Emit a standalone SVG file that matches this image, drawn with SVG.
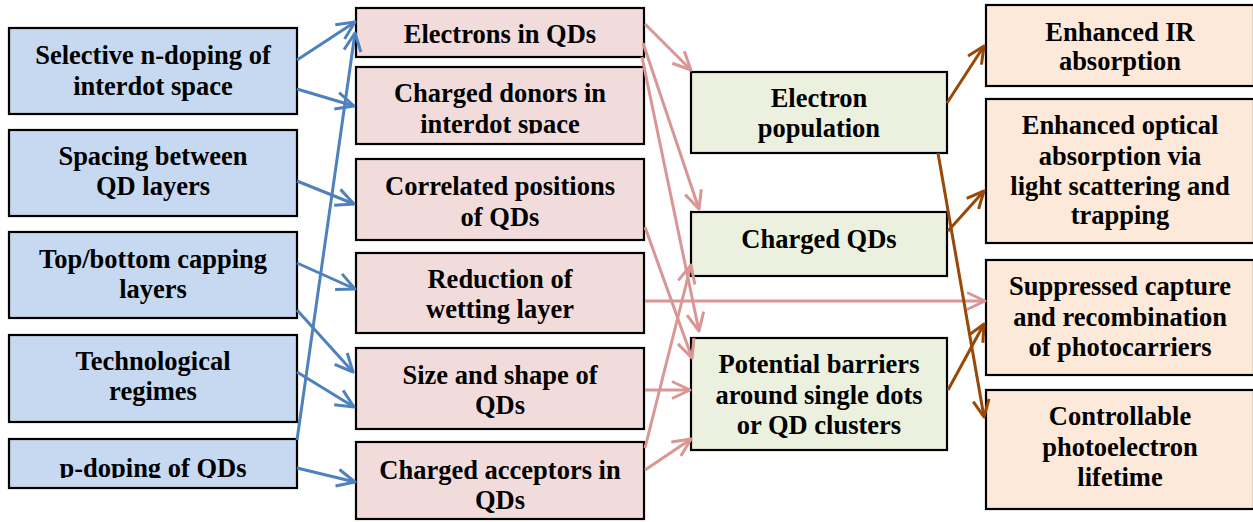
<svg xmlns="http://www.w3.org/2000/svg" width="1253" height="522" viewBox="0 0 1253 522">
<style>
  .box { stroke: #000; stroke-width: 2.2; }
  .blue { fill: #c6d9f0; }
  .pink { fill: #f2dcdb; }
  .green { fill: #ebf1de; }
  .peach { fill: #fde9d9; }
  text { font-family: "Liberation Serif", "Times New Roman", serif; font-weight: bold; font-size: 26.5px; fill: #000; text-anchor: middle; }
  .cb { stroke: #4f81bd; stroke-width: 3; fill: none; marker-end: url(#ab); }
  .cp { stroke: #d99694; stroke-width: 3; fill: none; marker-end: url(#ap); }
  .cr { stroke: #984807; stroke-width: 3; fill: none; marker-end: url(#ar); }
</style>
<defs>
  <marker id="ab" markerUnits="userSpaceOnUse" markerWidth="24" markerHeight="24" viewBox="-20 -12 24 24" refX="0" refY="0" orient="auto" overflow="visible">
    <path d="M-18,-8.5 L0,0 L-18,8.5" fill="none" stroke="#4f81bd" stroke-width="3" stroke-linejoin="round"/>
  </marker>
  <marker id="ap" markerUnits="userSpaceOnUse" markerWidth="24" markerHeight="24" viewBox="-20 -12 24 24" refX="0" refY="0" orient="auto" overflow="visible">
    <path d="M-18,-8.5 L0,0 L-18,8.5" fill="none" stroke="#d99694" stroke-width="3" stroke-linejoin="round"/>
  </marker>
  <marker id="ar" markerUnits="userSpaceOnUse" markerWidth="24" markerHeight="24" viewBox="-20 -12 24 24" refX="0" refY="0" orient="auto" overflow="visible">
    <path d="M-17,-8 L0,0 L-17,8" fill="none" stroke="#984807" stroke-width="3" stroke-linejoin="round"/>
  </marker>
  <clipPath id="clipM2"><rect x="356" y="60" width="288" height="73.5"/></clipPath>
  <clipPath id="clipL5"><rect x="9" y="430" width="288" height="48"/></clipPath>
</defs>
<rect width="1253" height="522" fill="#fff"/>

<!-- Left column -->
<g id="n-doping"><rect class="box blue" x="9" y="28" width="288" height="86"/>
  <text x="153" y="64">Selective n-doping of</text><text x="153" y="95">interdot space</text></g>
<g id="spacing"><rect class="box blue" x="9" y="130" width="288" height="86"/>
  <text x="153" y="165">Spacing between</text><text x="153" y="195">QD layers</text></g>
<g id="capping"><rect class="box blue" x="9" y="232" width="288" height="86"/>
  <text x="153" y="268">Top/bottom capping</text><text x="153" y="298">layers</text></g>
<g id="regimes"><rect class="box blue" x="9" y="335" width="288" height="87"/>
  <text x="153" y="370">Technological</text><text x="153" y="400">regimes</text></g>
<g id="p-doping"><rect class="box blue" x="9" y="439" width="288" height="49"/>
  <text x="153" y="476.5" clip-path="url(#clipL5)">p-doping of QDs</text></g>

<!-- Middle column -->
<g id="electrons-qds"><rect class="box pink" x="356" y="8" width="288" height="49"/>
  <text x="500" y="43">Electrons in QDs</text></g>
<g id="charged-donors"><rect class="box pink" x="356" y="67" width="288" height="77"/>
  <g clip-path="url(#clipM2)"><text x="500" y="101.5">Charged donors in</text><text x="500" y="132.5">interdot space</text></g></g>
<g id="correlated"><rect class="box pink" x="356" y="159" width="288" height="81"/>
  <text x="500" y="195">Correlated positions</text><text x="500" y="225.5">of QDs</text></g>
<g id="wetting"><rect class="box pink" x="356" y="253" width="288" height="80"/>
  <text x="500" y="287.5">Reduction of</text><text x="500" y="318">wetting layer</text></g>
<g id="size-shape"><rect class="box pink" x="356" y="348" width="288" height="81"/>
  <text x="500" y="383.5">Size and shape of</text><text x="500" y="414">QDs</text></g>
<g id="acceptors"><rect class="box pink" x="356" y="442" width="288" height="77"/>
  <text x="500" y="478.5">Charged acceptors in</text><text x="500" y="509">QDs</text></g>

<!-- Green column -->
<g id="electron-population"><rect class="box green" x="691" y="72" width="256" height="81"/>
  <text x="819" y="106.5">Electron</text><text x="819" y="136.5">population</text></g>
<g id="charged-qds"><rect class="box green" x="691" y="212" width="256" height="64"/>
  <text x="819" y="248">Charged QDs</text></g>
<g id="barriers"><rect class="box green" x="691" y="338" width="256" height="112"/>
  <text x="819" y="372.5">Potential barriers</text><text x="819" y="403.5">around single dots</text><text x="819" y="433.5">or QD clusters</text></g>

<!-- Right column -->
<g id="ir-absorption"><rect class="box peach" x="986" y="5" width="268" height="81"/>
  <text x="1120" y="41">Enhanced IR</text><text x="1120" y="70">absorption</text></g>
<g id="optical-absorption"><rect class="box peach" x="986" y="99" width="268" height="144"/>
  <text x="1120" y="133.5">Enhanced optical</text><text x="1120" y="164.5">absorption via</text><text x="1120" y="194.5">light scattering and</text><text x="1120" y="223.5">trapping</text></g>
<g id="suppressed-capture"><rect class="box peach" x="986" y="260" width="268" height="115"/>
  <text x="1120" y="295">Suppressed capture</text><text x="1120" y="325.5">and recombination</text><text x="1120" y="356">of photocarriers</text></g>
<g id="lifetime"><rect class="box peach" x="986" y="390" width="268" height="119"/>
  <text x="1120" y="425">Controllable</text><text x="1120" y="455.5">photoelectron</text><text x="1120" y="486">lifetime</text></g>

<!-- Connectors -->
<g id="connectors">
  <line class="cb" x1="297" y1="60" x2="355" y2="22"/>
  <line class="cb" x1="297" y1="89" x2="354" y2="106"/>
  <line class="cb" x1="297" y1="181" x2="354" y2="204"/>
  <line class="cb" x1="297" y1="263" x2="355" y2="289"/>
  <line class="cb" x1="297" y1="310" x2="353" y2="372"/>
  <line class="cb" x1="297" y1="372" x2="354" y2="407"/>
  <line class="cb" x1="297" y1="468" x2="355" y2="482"/>
  <line class="cb" x1="297" y1="440" x2="355" y2="33"/>

  <line class="cp" x1="645" y1="24" x2="691" y2="70"/>
  <line class="cp" x1="643" y1="43" x2="699" y2="209"/>
  <line class="cp" x1="642" y1="57" x2="699" y2="331"/>
  <line class="cp" x1="645" y1="227" x2="692" y2="358"/>
  <line class="cp" x1="645" y1="301" x2="985" y2="301"/>
  <line class="cp" x1="645" y1="390" x2="690" y2="390"/>
  <line class="cp" x1="645" y1="470" x2="691" y2="439"/>
  <line class="cp" x1="645" y1="448" x2="691" y2="265"/>

  <line class="cr" x1="947" y1="103" x2="984" y2="46"/>
  <line class="cr" x1="948" y1="231" x2="984" y2="191"/>
  <line class="cr" x1="948" y1="390" x2="984" y2="324"/>
  <line class="cr" x1="938" y1="153" x2="984" y2="417"/>
</g>
</svg>
